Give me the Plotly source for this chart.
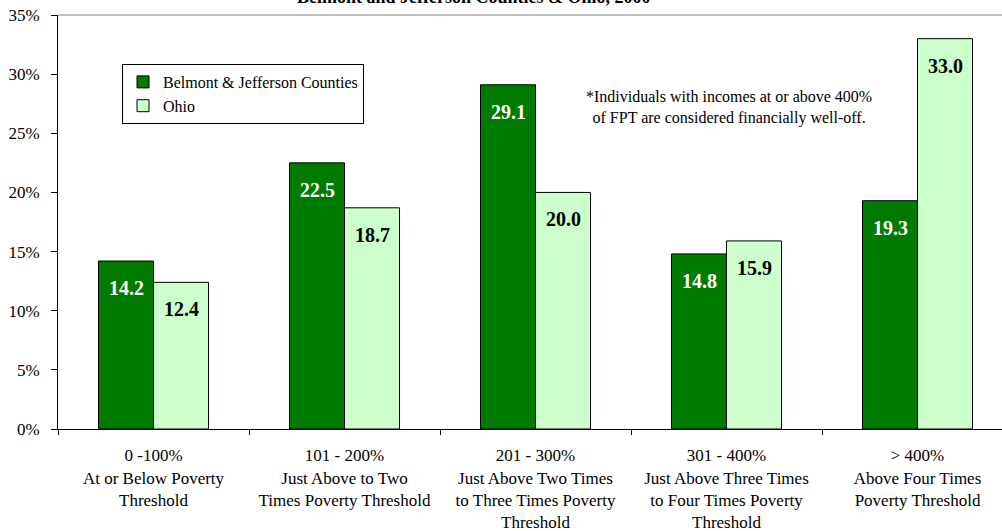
import plotly.graph_objects as go

categories = [
    "0 -100%<br>At or Below Poverty<br>Threshold",
    "101 - 200%<br>Just Above to Two<br>Times Poverty Threshold",
    "201 - 300%<br>Just Above Two Times<br>to Three Times Poverty<br>Threshold",
    "301 - 400%<br>Just Above Three Times<br>to Four Times Poverty<br>Threshold",
    "> 400%<br>Above Four Times<br>Poverty Threshold",
]
belmont_jefferson = [14.2, 22.5, 29.1, 14.8, 19.3]
ohio = [12.4, 18.7, 20.0, 15.9, 33.0]
series_names = ["Belmont & Jefferson Counties", "Ohio"]
title_text = "Belmont and Jefferson Counties & Ohio, 2000"
note_text = "*Individuals with incomes at or above 400%<br>of FPT are considered financially well-off."

FONT = "Liberation Serif, Times New Roman, serif"
DARK = "#007A00"
LIGHT = "#CCFFCC"

fig = go.Figure()
fig.add_trace(go.Bar(x=categories, y=belmont_jefferson, name=series_names[0],
                     marker=dict(color=DARK, line=dict(color="black", width=1))))
fig.add_trace(go.Bar(x=categories, y=ohio, name=series_names[1],
                     marker=dict(color=LIGHT, line=dict(color="black", width=1))))

# value labels inside bars near top
for c, v in zip(categories, belmont_jefferson):
    fig.add_annotation(x=c, y=v, xref="x", yref="y", text=f"{v:.1f}", showarrow=False,
                       xshift=-27.5, yshift=-27, yanchor="middle",
                       font=dict(family=FONT, size=20, color="white", weight="bold"))
for c, v in zip(categories, ohio):
    fig.add_annotation(x=c, y=v, xref="x", yref="y", text=f"{v:.1f}", showarrow=False,
                       xshift=27.5, yshift=-27, yanchor="middle",
                       font=dict(family=FONT, size=20, color="black", weight="bold"))

# title (cropped at top)
fig.add_annotation(x=0.4407, y=1.0435, xref="paper", yref="paper", text=title_text,
                   showarrow=False, xanchor="center", yanchor="middle",
                   font=dict(family=FONT, size=18, color="black", weight="bold"))

# note
fig.add_annotation(x=(729 - 58) / 944, y=1 - (107 - 15) / 414, xref="paper", yref="paper",
                   text=note_text, showarrow=False, xanchor="center", yanchor="middle",
                   align="center", font=dict(family=FONT, size=16, color="black"))

# top gray border
fig.add_shape(type="line", xref="paper", yref="paper", x0=0, x1=1, y0=1, y1=1,
              line=dict(color="#808080", width=1))

fig.update_layout(
    width=1002, height=531,
    margin=dict(l=58, r=0, t=15, b=102, autoexpand=False),
    paper_bgcolor="white", plot_bgcolor="white",
    barmode="group", bargap=0.424, bargroupgap=0,
    font=dict(family=FONT, size=17, color="black"),
    showlegend=True,
    legend=dict(x=(122 - 58) / 944, y=1 - (64 - 15) / 414, xanchor="left", yanchor="top",
                bordercolor="black", borderwidth=1, bgcolor="white",
                font=dict(family=FONT, size=16, color="black"),
                itemwidth=30, tracegroupgap=0),
    xaxis=dict(range=[-0.5, 4.4424], showline=True, linecolor="black", linewidth=1,
               ticks="outside", ticklen=5, tickcolor="black", tickson="boundaries",
               showgrid=False, tickangle=0, ticklabelstandoff=11, automargin=False,
               tickfont=dict(family=FONT, size=17, color="black")),
    yaxis=dict(range=[0, 35], dtick=5, ticksuffix="%", showline=True, linecolor="black",
               linewidth=1, ticks="outside", ticklen=6, tickcolor="black", showgrid=False,
               zeroline=False, ticklabelstandoff=8, automargin=False,
               tickfont=dict(family=FONT, size=17, color="black")),
)

fig.write_html("out.html", config={"displayModeBar": False},
               post_script="document.body.style.margin='0';document.body.style.padding='0';")
